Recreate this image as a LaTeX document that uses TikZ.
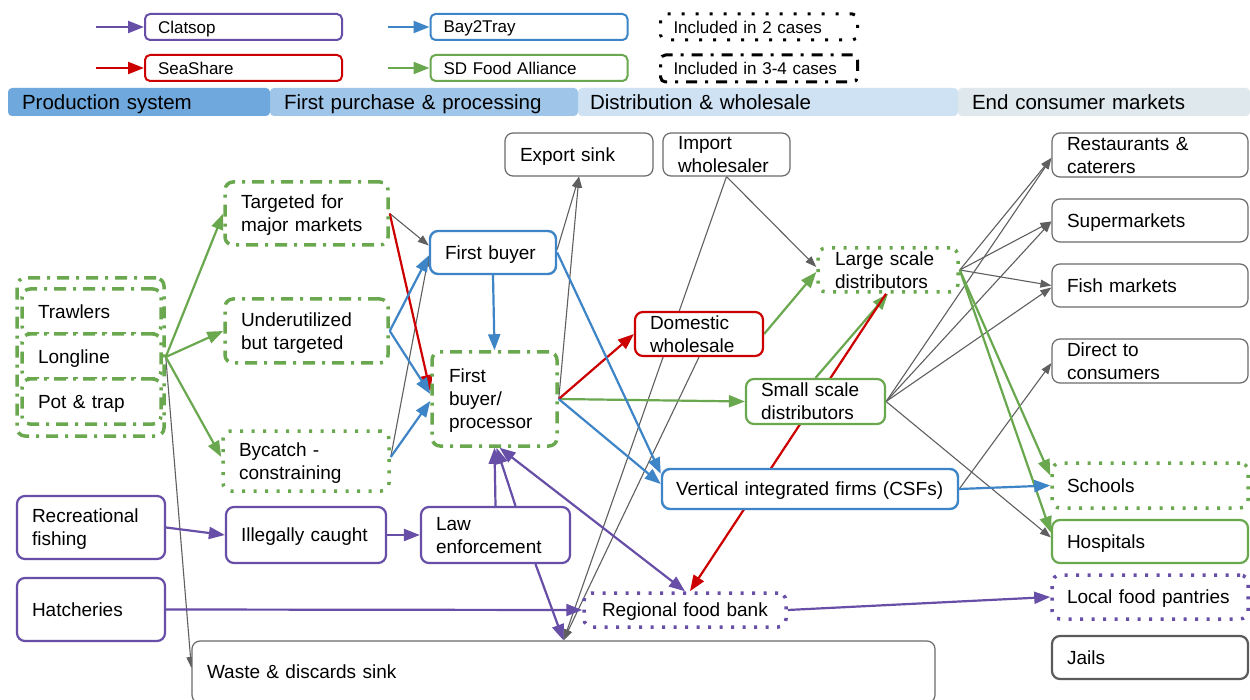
\documentclass[tikz,border=0pt]{standalone}
\usepackage{fontspec}
\setmainfont{Liberation Sans}
\usetikzlibrary{arrows.meta,backgrounds}
\pgfdeclarelayer{back}
\pgfsetlayers{back,background,main}
\definecolor{cpur}{HTML}{674EA7}
\definecolor{cred}{HTML}{CC0000}
\definecolor{cblu}{HTML}{3D85C6}
\definecolor{cgrn}{HTML}{6AA84F}
\definecolor{cgry}{HTML}{5F5F5F}
\definecolor{cbox}{HTML}{6B6B6B}
\definecolor{hA}{HTML}{6FA8DC}
\definecolor{hB}{HTML}{9FC5E8}
\definecolor{hC}{HTML}{CFE2F3}
\definecolor{hD}{HTML}{DFE8EC}
\newcommand{\nodefnt}{\fontsize{19}{23}\selectfont}
\newcommand{\legfnt}{\fontsize{17}{20}\selectfont}
\newcommand{\hdrfnt}{\fontsize{20.5}{24}\selectfont}
\tikzset{
  nodepth/.style={execute at end node={\par\kern-\prevdepth}},
  box/.style={rounded corners=8pt, fill=white, align=left, inner xsep=15pt, inner ysep=0pt, font=\nodefnt, text=black, nodepth},
  sz/.style n args={3}{minimum width=#1pt, minimum height=#2pt, text width=#3pt},
  gbox/.style={box, draw=cbox, line width=1.2pt},
  jbox/.style={box, draw=cbox!85!black, line width=2.2pt},
  pbox/.style={box, draw=cpur, line width=2.2pt},
  rbox/.style={box, draw=cred, line width=2.2pt},
  bbox/.style={box, draw=cblu, line width=2.4pt},
  grbox/.style={box, draw=cgrn, line width=2.2pt},
  gdashdot/.style={box, draw=cgrn, line width=3.5pt, dash pattern=on 12pt off 7pt on 3pt off 7pt},
  gdots/.style={box, draw=cgrn, line width=3.5pt, dash pattern=on 3pt off 8.5pt},
  pdots/.style={box, draw=cpur, line width=3.5pt, dash pattern=on 3pt off 8.5pt},
  leg/.style={rounded corners=5pt, fill=white, align=left, inner xsep=13pt, inner ysep=0pt, font=\legfnt, minimum width=197pt, minimum height=26pt, text width=171pt, nodepth},
  hdr/.style={rounded corners=4pt, align=left, inner ysep=0pt, font=\hdrfnt, minimum height=28pt, nodepth},
  parr/.style={draw=cpur, line width=2.2pt, -{Triangle[length=16pt,width=12pt]}},
  rarr/.style={draw=cred, line width=2.2pt, -{Triangle[length=16pt,width=12pt]}},
  barr/.style={draw=cblu, line width=2.2pt, -{Triangle[length=16pt,width=12pt]}},
  garr/.style={draw=cgrn, line width=2.2pt, -{Triangle[length=16pt,width=12pt]}},
  gyarr/.style={draw=cgry, line width=1.1pt, -{Triangle[length=11pt,width=8pt]}},
  dblarr/.style={draw=cpur, line width=2.2pt, {Triangle[length=16pt,width=12pt]}-{Triangle[length=16pt,width=12pt]}},
}
\begin{document}
\begin{tikzpicture}[x=1pt,y=-1pt,line join=round]
\useasboundingbox (0,0) rectangle (1250,700);
\begin{pgfonlayer}{back}
\fill[white] (0,0) rectangle (1250,700);
\end{pgfonlayer}

% ---------- legend ----------
\node[leg, draw=cpur, line width=2pt] (lclat) at (243.5,27) {Clatsop};
\node[leg, draw=cred, line width=2pt] (lsea) at (243.5,68) {SeaShare};
\node[leg, draw=cblu, line width=2pt] (lbay) at (529,27) {Bay2Tray};
\node[leg, draw=cgrn, line width=2pt] (lsd) at (529,68) {SD Food Alliance};
\node[leg, draw=black, line width=3pt, dash pattern=on 3pt off 11pt] (ltwo) at (759,27) {Included in 2 cases};
\node[leg, draw=black, line width=3pt, dash pattern=on 11pt off 8pt on 3pt off 8pt, minimum height=27pt] (lthree) at (759,68.5) {Included in 3-4 cases};
\coordinate (lc0) at (96,27);
\coordinate (ls0) at (96,68);
\coordinate (lb0) at (388,27);
\coordinate (lg0) at (388,68);
\draw[parr] (lc0) -- (lclat.west);
\draw[rarr] (ls0) -- (lsea.west);
\draw[barr] (lb0) -- (lbay.west);
\draw[garr] (lg0) -- (lsd.west);

% ---------- header ----------
\node[hdr, fill=hD, minimum width=292pt, text width=264pt, inner xsep=14pt] (hEnd) at (1104,102) {End consumer markets};
\node[hdr, fill=hC, minimum width=380pt, text width=356pt, inner xsep=12pt] (hDist) at (768,102) {Distribution \& wholesale};
\node[hdr, fill=hB, minimum width=308pt, text width=280pt, inner xsep=14pt] (hFirst) at (424,102) {First purchase \& processing};
\node[hdr, fill=hA, minimum width=262pt, text width=234pt, inner xsep=14pt] (hProd) at (139,102) {Production system};

% ---------- production ----------
\node[gdashdot, sz={147}{158}{117}] (gear) at (90.5,357) {};
\node[gdashdot, sz={139}{45}{107}, inner xsep=16pt] (trawl) at (91.5,311.5) {Trawlers};
\node[gdashdot, sz={139}{45}{107}, inner xsep=16pt] (longl) at (91.5,356.5) {Longline};
\node[gdashdot, sz={139}{45}{107}, inner xsep=16pt] (pot) at (91.5,401.5) {Pot \& trap};
\node[pbox, sz={148}{63}{118}] (rec) at (91,527.5) {Recreational\\fishing};
\node[pbox, sz={148}{63}{118}] (hatch) at (91,609.5) {Hatcheries};

\node[gdashdot, sz={161}{63}{131}, inner xsep=16pt] (targ) at (306.5,213.5) {Targeted for\\major markets};
\node[gdashdot, sz={161}{64}{131}, inner xsep=16pt] (under) at (306.5,331) {Underutilized\\but targeted};
\node[gdots, sz={164}{60}{134}, inner xsep=16pt] (bycatch) at (306,461) {Bycatch -\\constraining};
\node[pbox, sz={160}{56}{130}] (illeg) at (306,535) {Illegally caught};

% ---------- first purchase ----------
\node[bbox, sz={126}{43}{96}] (fb) at (493,252.5) {First buyer};
\node[gdashdot, sz={125}{94}{91}, inner xsep=17pt] (fbp) at (494.5,399) {First\\buyer/\\processor};
\node[pbox, sz={149}{56}{119}] (law) at (495.5,535) {Law\\enforcement};
\node[gbox, sz={148}{43}{118}] (export) at (579,154.5) {Export sink};

% ---------- distribution ----------
\node[gbox, sz={127}{43}{97}] (import) at (726.5,154.5) {Import\\wholesaler};
\node[rbox, sz={128}{44}{98}] (dom) at (699,334) {Domestic\\wholesale};
\node[gdots, sz={140}{44}{106}, inner xsep=17pt] (large) at (888,270) {Large scale\\distributors};
\node[grbox, sz={139}{45}{109}] (small) at (815.5,401.5) {Small scale\\distributors};
\node[bbox, sz={296}{40}{268}, inner xsep=14pt] (vif) at (810,489) {Vertical integrated firms (CSFs)};
\node[pdots, sz={202}{34}{166}, inner xsep=18pt] (rfb) at (685,610) {Regional food bank};
\node[gbox, sz={743}{62}{713}] (waste) at (563.5,672) {Waste \& discards sink};

% ---------- end consumer ----------
\node[gbox, sz={196}{44}{166}] (rest) at (1150,155) {Restaurants \&\\caterers};
\node[gbox, sz={196}{43}{166}] (super) at (1150,220.5) {Supermarkets};
\node[gbox, sz={196}{43}{166}] (fish) at (1150,285.5) {Fish markets};
\node[gbox, sz={196}{44}{166}] (direct) at (1150,361) {Direct to\\consumers};
\node[gdots, sz={196}{45}{166}] (schools) at (1150,485.5) {Schools};
\node[grbox, sz={196}{43}{166}] (hosp) at (1150,541.5) {Hospitals};
\node[pdots, sz={196}{44}{166}] (pantry) at (1150,597) {Local food pantries};
\node[jbox, sz={196}{43}{166}] (jails) at (1150,657.5) {Jails};

% ---------- connectors ----------
\begin{pgfonlayer}{background}
% gray
\draw[gyarr] (gear.east) -- ([yshift=4pt]waste.west);
\draw[gyarr] (targ.east) -- ([yshift=7pt]fb.west);
\draw[gyarr] ([yshift=4pt]bycatch.east) -- ([yshift=-3pt]fb.west);
\draw[gyarr] ([yshift=3pt]fb.east) -- (export.south);
\draw[gyarr] (fbp.east) -- (export.south);
\draw[gyarr] (import.south) -- ([yshift=3pt]large.west);
\draw[gyarr] (import.south) -- (waste.north);
\draw[gyarr] (dom.south) -- (waste.north);
\draw[gyarr] (large.east) -- ([yshift=-3pt]rest.west);
\draw[gyarr] (large.east) -- ([yshift=-1pt]super.west);
\draw[gyarr] (large.east) -- (fish.west);
\draw[gyarr] (small.east) -- ([yshift=-3pt]rest.west);
\draw[gyarr] (small.east) -- ([yshift=-1pt]super.west);
\draw[gyarr] (small.east) -- ([yshift=-2pt]fish.west);
\draw[gyarr] (small.east) -- ([yshift=4pt]hosp.west);
\draw[gyarr] (vif.east) -- ([yshift=-2pt]direct.west);
% green
\draw[garr] (gear.east) -- (targ.west);
\draw[garr] (gear.east) -- (under.west);
\draw[garr] (gear.east) -- ([yshift=4pt]bycatch.west);
\draw[garr] (fbp.east) -- (small.west);
\draw[garr] (dom.east) -- ([yshift=-2pt]large.west);
\draw[garr] (small.north) -- (large.south);
\draw[garr] (large.east) -- ([yshift=10pt]schools.west);
\draw[garr] (large.east) -- ([yshift=9pt]hosp.west);
% red
\draw[rarr] (targ.east) -- ([yshift=8pt]fbp.west);
\draw[rarr] (fbp.east) -- (dom.west);
\draw[rarr] ([xshift=-2pt]large.south) -- ([xshift=5pt]rfb.north);
% blue
\draw[barr] (under.east) -- ([yshift=-3pt]fb.west);
\draw[barr] (under.east) -- ([yshift=5pt]fbp.west);
\draw[barr] ([yshift=4pt]bycatch.east) -- ([yshift=-2pt]fbp.west);
\draw[barr] (fb.south) -- (fbp.north);
\draw[barr] (fb.east) -- ([yshift=-6pt]vif.north west);
\draw[barr] (fbp.east) -- ([yshift=5pt]vif.west);
\draw[barr] (vif.east) -- (schools.west);
% purple
\draw[parr] (rec.east) -- (illeg.west);
\draw[parr] (illeg.east) -- (law.west);
\draw[parr] (law.north) -- (fbp.south);
\draw[parr] ([xshift=20pt]law.north) -- ([xshift=2pt]fbp.south);
\draw[dblarr] ([xshift=5pt]fbp.south) -- (rfb.north);
\draw[parr] ([xshift=40pt]law.south) -- (waste.north);
\draw[parr] (hatch.east) -- (rfb.west);
\draw[parr] (rfb.east) -- (pantry.west);
\end{pgfonlayer}
\end{tikzpicture}
\end{document}
